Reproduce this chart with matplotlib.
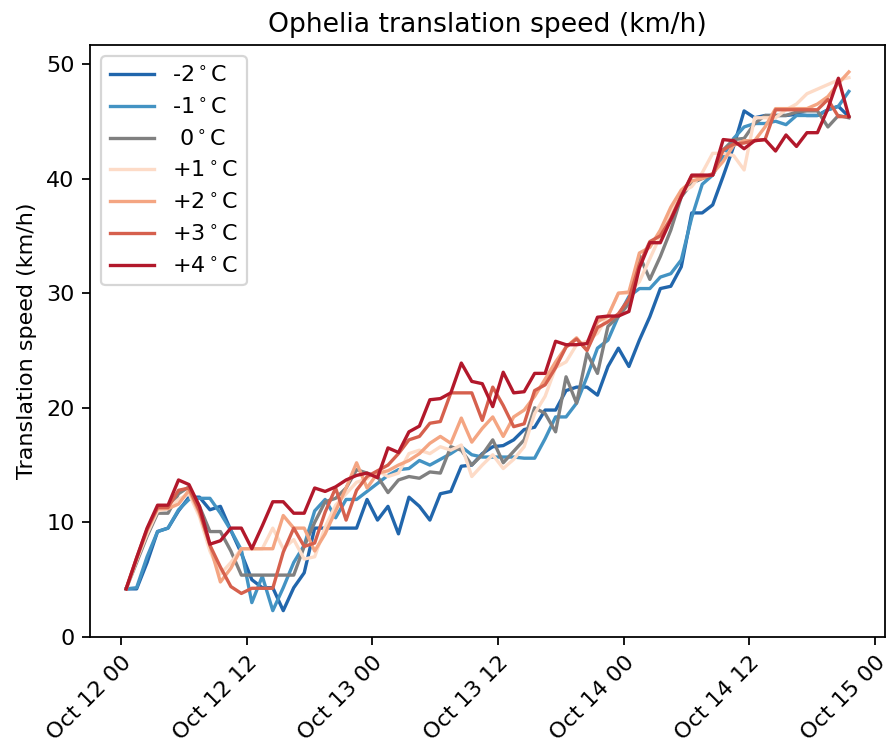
import numpy as np
import pandas as pd
import matplotlib
matplotlib.use("Agg")
import matplotlib.pyplot as plt
import matplotlib.dates as mdates

# Hourly translation speed (km/h) for each warming scenario
times = pd.date_range("2017-10-12 00:30", periods=70, freq="h")

labels = ["-2$^\\circ$C", "-1$^\\circ$C", " 0$^\\circ$C", "+1$^\\circ$C",
          "+2$^\\circ$C", "+3$^\\circ$C", "+4$^\\circ$C"]
colors = ["#2166ac", "#4393c3", "gray", "#fddbc7", "#f4a582", "#d6604d", "#b2182b"]

speed_m2 = [4.2, 4.2, 6.5, 9.2, 9.5, 11.0, 12.2, 12.2, 11.1, 11.4,
            9.3, 7.3, 5.0, 4.3, 4.3, 2.3, 4.3, 5.6, 9.5, 9.5,
            9.5, 9.5, 9.5, 12.0, 10.2, 11.4, 9.0, 12.2, 11.4, 10.2,
            12.5, 12.7, 14.9, 15.0, 16.0, 16.6, 16.7, 17.2, 18.1, 18.3,
            19.8, 19.8, 21.5, 21.8, 21.8, 21.1, 23.6, 25.2, 23.6, 25.9,
            27.95, 30.4, 30.6, 32.3, 37.0, 37.0, 37.7, 40.2, 42.8, 45.9,
            45.3, 45.5, 45.5, 45.5, 45.6, 45.5, 45.5, 46.0, 46.3, 45.4]

speed_m1 = [4.2, 4.3, 7.0, 9.2, 9.5, 11.1, 12.0, 12.1, 12.1, 10.8,
            9.3, 7.6, 3.0, 5.3, 2.3, 4.3, 6.5, 8.0, 11.0, 12.0,
            10.4, 12.0, 12.0, 12.7, 13.4, 14.1, 14.6, 14.7, 15.4, 15.0,
            15.5, 16.0, 16.6, 15.9, 15.7, 15.7, 15.7, 15.7, 15.6, 15.6,
            17.3, 19.2, 19.2, 20.4, 22.7, 25.2, 25.9, 28.0, 29.7, 30.4,
            30.4, 31.4, 31.7, 32.9, 36.6, 39.5, 40.3, 42.0, 43.5, 44.5,
            44.8, 44.8, 45.0, 44.7, 45.5, 45.5, 45.5, 46.0, 46.3, 47.6]

speed_0 = [4.2, 6.5, 8.8, 10.8, 10.8, 12.5, 13.1, 11.4, 9.2, 9.2,
           7.5, 5.4, 5.4, 5.4, 5.4, 5.4, 5.4, 7.9, 10.0, 11.8,
           12.1, 13.0, 14.6, 14.3, 14.0, 12.6, 13.7, 14.0, 13.85, 14.4,
           14.3, 16.6, 16.3, 15.0, 15.9, 17.2, 15.2, 16.2, 17.2, 20.0,
           19.5, 17.9, 22.7, 20.4, 24.75, 23.0, 27.1, 27.95, 29.1, 33.3,
           31.2, 33.2, 35.5, 38.4, 39.6, 40.0, 40.3, 42.5, 43.4, 43.5,
           44.8, 45.5, 45.5, 45.5, 45.8, 45.9, 45.9, 44.5, 45.5, 45.3]

speed_p1 = [4.2, 6.7, 9.0, 11.0, 11.2, 12.0, 12.5, 10.5, 7.5, 5.5,
            6.5, 7.7, 7.7, 7.7, 9.5, 7.7, 8.5, 6.8, 7.0, 9.6,
            11.5, 12.5, 13.5, 13.8, 14.5, 14.0, 14.3, 16.0, 16.3, 16.0,
            16.6, 16.3, 16.75, 14.0, 15.0, 15.9, 14.7, 15.5, 16.6, 19.5,
            21.0, 23.5, 24.0, 25.5, 25.8, 26.5, 28.0, 30.0, 30.0, 31.0,
            33.0, 35.0, 37.0, 38.8, 39.3, 40.5, 42.2, 42.2, 42.0, 40.75,
            45.3, 45.3, 45.3, 46.0, 46.5, 47.4, 47.8, 48.2, 48.6, 48.8]

speed_p2 = [4.2, 6.8, 9.3, 11.2, 11.2, 11.6, 12.8, 10.8, 8.0, 4.8,
            6.0, 7.7, 7.7, 7.7, 7.7, 10.6, 9.5, 9.5, 7.5, 9.0,
            11.0, 13.0, 15.2, 13.0, 14.3, 14.5, 15.0, 15.4, 16.0, 16.9,
            17.5, 16.9, 19.1, 17.0, 18.2, 19.2, 17.5, 19.2, 19.8, 21.0,
            22.5, 24.0, 25.3, 26.1, 25.0, 27.5, 28.0, 30.0, 30.1, 33.5,
            34.0, 35.5, 37.5, 39.0, 39.8, 40.0, 40.45, 41.5, 42.9, 43.3,
            43.3, 44.5, 46.1, 46.1, 46.1, 46.1, 46.5, 47.15, 48.3, 49.3]

speed_p3 = [4.2, 6.9, 9.4, 11.3, 11.3, 12.8, 13.0, 11.0, 8.0, 6.1,
            4.4, 3.8, 4.25, 4.25, 4.25, 7.4, 9.5, 7.9, 8.2, 10.9,
            13.0, 10.2, 12.8, 14.0, 14.5, 15.0, 16.0, 17.2, 17.5, 18.65,
            18.8, 21.3, 21.3, 21.3, 18.9, 21.8, 20.2, 18.35, 18.6, 21.5,
            22.0, 23.5, 25.3, 26.0, 25.0, 27.0, 27.5, 28.2, 29.5, 32.5,
            34.5, 35.0, 36.5, 38.5, 40.2, 40.2, 40.3, 42.5, 43.0, 43.1,
            43.3, 43.4, 46.0, 46.0, 46.0, 46.0, 46.0, 46.9, 45.4, 45.4]

speed_p4 = [4.2, 6.9, 9.5, 11.5, 11.5, 13.7, 13.3, 11.4, 8.1, 8.4,
            9.5, 9.5, 7.7, 9.7, 11.8, 11.8, 10.8, 10.8, 13.0, 12.7,
            13.1, 13.7, 14.1, 14.3, 13.9, 16.5, 16.1, 17.9, 18.4, 20.7,
            20.8, 21.3, 23.9, 22.3, 22.1, 20.1, 23.1, 21.3, 21.4, 23.0,
            23.0, 25.8, 25.5, 25.5, 25.6, 27.9, 28.0, 28.0, 28.4, 32.2,
            34.4, 34.4, 36.4, 38.4, 40.3, 40.3, 40.3, 43.4, 43.3, 42.6,
            43.3, 43.4, 42.4, 43.8, 42.8, 44.0, 44.0, 46.1, 48.75, 45.4]

series = [speed_m2, speed_m1, speed_0, speed_p1, speed_p2, speed_p3, speed_p4]

DPI = 160
W, H = 887, 747
fig = plt.figure(figsize=(W / DPI, H / DPI), dpi=DPI)
ax = fig.add_axes([90 / W, 110 / H, 795 / W, 592 / H])

for vals, lab, col in zip(series, labels, colors):
    ax.plot(times, vals, color=col, label=lab, lw=1.5)

ax.set_ylim(bottom=0)
ax.xaxis.set_major_locator(mdates.HourLocator(byhour=[0, 12]))
ax.xaxis.set_major_formatter(mdates.DateFormatter("%b %d %H"))
plt.setp(ax.get_xticklabels(), rotation=45, ha="right", rotation_mode="anchor")

ax.set_ylabel("Translation speed (km/h)")
ax.set_title("Ophelia translation speed (km/h)")
ax.legend(loc="upper left")

fig.savefig("out.png", dpi=DPI)
